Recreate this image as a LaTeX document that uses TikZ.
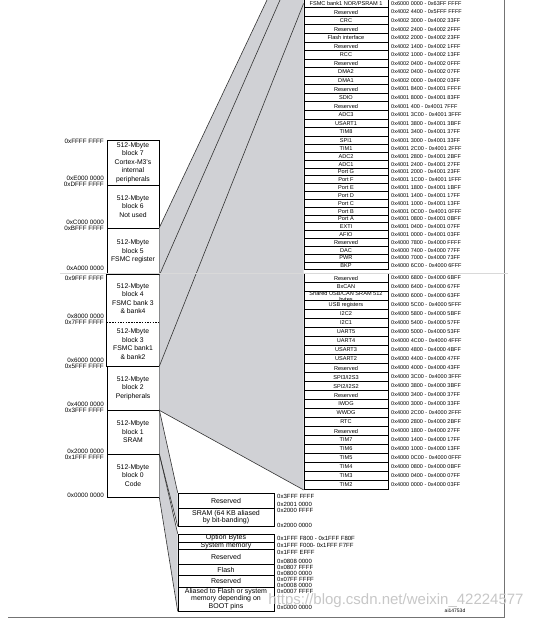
\documentclass[tikz,border=0pt]{standalone}
\usepackage{fontspec}
\setmainfont{Liberation Sans}
\definecolor{mapgray}{RGB}{208,209,213}
\tikzset{
    mblock/.style={draw, fill=white, line width=0.6pt, minimum width=52pt, inner sep=0pt, align=center, font=\fontsize{6.8}{8.5}\selectfont},
    mbaddr/.style={anchor=east, inner sep=0pt, font=\fontsize{6.3}{7}\selectfont},
    preg/.style={draw, fill=white, line width=0.8pt, minimum width=84pt, inner sep=0pt, font=\fontsize{5.6}{6}\selectfont},
    praddr/.style={anchor=west, inner sep=0pt, font=\fontsize{5.5}{6}\selectfont},
    cmem/.style={draw, fill=white, line width=0.6pt, minimum width=96pt, inner sep=0pt, align=center, font=\fontsize{7}{7.5}\selectfont},
    cmaddr/.style={anchor=west, inner sep=0pt, font=\fontsize{6}{6.5}\selectfont},
    mapshade/.style={fill=mapgray, draw=none},
    maplink/.style={line width=0.6pt, draw=black!80},
}

\begin{document}
\begin{tikzpicture}[x=1pt, y=-1pt]
    \useasboundingbox (0,0) rectangle (542,620);
    % 512-Mbyte blocks
    \node[mblock, minimum height=45pt] (b7) at (133,162.5) {512-Mbyte\\block 7\\Cortex-M3's\\internal\\peripherals};
    \node[mblock, minimum height=43pt] (b6) at (133,206.5) {512-Mbyte\\block 6\\Not used};
    \node[mblock, minimum height=47pt] (b5) at (133,251.5) {512-Mbyte\\block 5\\FSMC register};
    \node[mblock, draw=none, minimum height=47pt] (b4) at (133,298.5) {512-Mbyte\\block 4\\FSMC bank 3\\\& bank4};
    \node[mblock, draw=none, minimum height=44pt] (b3) at (133,344) {512-Mbyte\\block 3\\FSMC bank1\\\& bank2};
    \node[mblock, minimum height=44pt] (b2) at (133,388) {512-Mbyte\\block 2\\Peripherals};
    \node[mblock, minimum height=44pt] (b1) at (133,432) {512-Mbyte\\block 1\\SRAM};
    \node[mblock, minimum height=43pt] (b0) at (133,475.5) {512-Mbyte\\block 0\\Code};
    \draw[line width=0.6pt] (b4.north west) rectangle (b3.south east);
    \draw[line width=0.5pt, dash pattern=on 1.5pt off 1.2pt] (b4.south west) -- (b4.south east);
    \foreach \txt/\yy [count=\k] in {0xFFFF FFFF/141, 0xE000 0000/178, 0xDFFF FFFF/184, 0xC000 0000/222.5,
        0xBFFF FFFF/228.5, 0xA000 0000/268.5, 0x9FFF FFFF/278.5, 0x8000 0000/316.5, 0x7FFF FFFF/322.5,
        0x6000 0000/360.5, 0x5FFF FFFF/366.5, 0x4000 0000/404.5, 0x3FFF FFFF/410.5, 0x2000 0000/451.5,
        0x1FFF FFFF/457.5, 0x0000 0000/495}
        \node[mbaddr] (ba\k) at (104,\yy) {\txt};
    % peripheral registers
    \foreach \lbl/\adr [count=\i from 0] in {
        {FSMC bank1 NOR/PSRAM 1}/0x6000 0000 - 0x63FF FFFF,
        Reserved/0x4002 4400 - 0x5FFF FFFF,
        CRC/0x4002 3000 - 0x4002 33FF,
        Reserved/0x4002 2400 - 0x4002 2FFF,
        Flash interface/0x4002 2000 - 0x4002 23FF,
        Reserved/0x4002 1400 - 0x4002 1FFF,
        RCC/0x4002 1000 - 0x4002 13FF,
        Reserved/0x4002 0400 - 0x4002 0FFF,
        DMA2/0x4002 0400 - 0x4002 07FF,
        DMA1/0x4002 0000 - 0x4002 03FF,
        Reserved/0x4001 8400 - 0x4001 FFFF,
        SDIO/0x4001 8000 - 0x4001 83FF,
        Reserved/0x4001 400 - 0x4001 7FFF,
        ADC3/0x4001 3C00 - 0x4001 3FFF,
        USART1/0x4001 3800 - 0x4001 3BFF,
        TIM8/0x4001 3400 - 0x4001 37FF,
        SPI1/0x4001 3000 - 0x4001 33FF}
    {
        \node[preg, minimum height=8.553pt] (ra\i) at (346,{-0.8+8.553*(\i+0.5)}) {\lbl};
        \node[praddr] (aa\i) at (391,{-0.8+8.553*(\i+0.5)}) {\adr};
    }
    \foreach \lbl/\adr [count=\i from 0] in {
        TIM1/0x4001 2C00 - 0x4001 2FFF,
        ADC2/0x4001 2800 - 0x4001 2BFF,
        ADC1/0x4001 2400 - 0x4001 27FF,
        Port G/0x4001 2000 - 0x4001 23FF,
        Port F/0x4001 1C00 - 0x4001 1FFF,
        Port E/0x4001 1800 - 0x4001 1BFF,
        Port D/0x4001 1400 - 0x4001 17FF,
        Port C/0x4001 1000 - 0x4001 13FF,
        Port B/0x4001 0C00 - 0x4001 0FFF,
        Port A/0x4001 0800 - 0x4001 0BFF,
        EXTI/0x4001 0400 - 0x4001 07FF,
        AFIO/0x4001 0000 - 0x4001 03FF,
        Reserved/0x4000 7800 - 0x4000 FFFF,
        DAC/0x4000 7400 - 0x4000 77FF,
        PWR/0x4000 7000 - 0x4000 73FF,
        BKP/0x4000 6C00 - 0x4000 6FFF}
    {
        \node[preg, minimum height=7.825pt] (rb\i) at (346,{144.6+7.825*(\i+0.5)}) {\lbl};
        \node[praddr] (ab\i) at (391,{144.6+7.825*(\i+0.5)}) {\adr};
    }
    \foreach \lbl/\adr [count=\i from 0] in {
        Reserved/0x4000 6800 - 0x4000 6BFF,
        BxCAN/0x4000 6400 - 0x4000 67FF,
        {\smash{\raisebox{-2.8pt}{\begin{tabular}{@{}c@{}}Shared USB/CAN SRAM 512\\bytes\end{tabular}}}}/0x4000 6000 - 0x4000 63FF,
        USB registers/0x4000 5C00 - 0x4000 5FFF,
        I2C2/0x4000 5800 - 0x4000 5BFF,
        I2C1/0x4000 5400 - 0x4000 57FF,
        UART5/0x4000 5000 - 0x4000 53FF,
        UART4/0x4000 4C00 - 0x4000 4FFF,
        USART3/0x4000 4800 - 0x4000 4BFF,
        USART2/0x4000 4400 - 0x4000 47FF,
        Reserved/0x4000 4000 - 0x4000 43FF,
        {SPI3/I2S3}/0x4000 3C00 - 0x4000 3FFF,
        {SPI2/I2S2}/0x4000 3800 - 0x4000 3BFF,
        Reserved/0x4000 3400 - 0x4000 37FF,
        IWDG/0x4000 3000 - 0x4000 33FF,
        WWDG/0x4000 2C00 - 0x4000 2FFF,
        RTC/0x4000 2800 - 0x4000 2BFF,
        Reserved/0x4000 1800 - 0x4000 27FF,
        TIM7/0x4000 1400 - 0x4000 17FF,
        TIM6/0x4000 1000 - 0x4000 13FF,
        TIM5/0x4000 0C00 - 0x4000 0FFF,
        TIM4/0x4000 0800 - 0x4000 0BFF,
        TIM3/0x4000 0400 - 0x4000 07FF,
        TIM2/0x4000 0000 - 0x4000 03FF}
    {
        \node[preg, minimum height=9pt] (rc\i) at (346,{273.5+9*(\i+0.5)}) {\lbl};
        \node[praddr] (ac\i) at (391,{273.5+9*(\i+0.5)}) {\adr};
    }
    % code and SRAM detail
    \node[cmem, minimum height=15pt] (m0) at (226,500.5) {Reserved};
    \node[cmem, minimum height=18pt] (m1) at (226,517) {SRAM (64 KB aliased\\by bit-banding)};
    \node[cmem, minimum height=8pt] (m2) at (226,538) {Option Bytes};
    \node[cmem, minimum height=7.5pt] (m3) at (226,545.75) {System memory};
    \node[cmem, minimum height=14.5pt] (m4) at (226,556.75) {Reserved};
    \node[cmem, minimum height=11pt] (m5) at (226,569.5) {Flash};
    \node[cmem, minimum height=12pt] (m6) at (226,581) {Reserved};
    \node[cmem, minimum height=24pt] (m7) at (226,599) {Aliased to Flash or system\\memory depending on\\BOOT pins};
    \foreach \txt/\yy [count=\k] in {0x3FFF FFFF/496, 0x2001 0000/504.5, 0x2000 FFFF/510.5, 0x2000 0000/525,
        0x1FFF F800 - 0x1FFF F80F/538, 0x1FFF F000- 0x1FFF F7FF/545.5, 0x1FFF EFFF/552.5,
        0x0808 0000/561, 0x0807 FFFF/567, 0x0800 0000/573, 0x07FF FFFF/579, 0x0008 0000/585,
        0x0007 FFFF/591, 0x0000 0000/607}
        \node[cmaddr] (ca\k) at (277,\yy) {\txt};
    \node[inner sep=0pt, font=\fontsize{5}{5}\selectfont] (fig) at (455,611) {ai14753d};
    \draw[line width=0.8pt, black!55] (504,0) -- (504,617) -- (8,617);
    \coordinate (top1) at (267,0);
    \coordinate (top2) at (280,0);
    \coordinate (coltop) at (303.6,0);
    \path[mapshade] (b5.north east) -- (top1) -- (coltop) -- (rc23.south west) -- (b2.south east) -- cycle;
    \path[mapshade] (b1.north east) -- (m0.north west) -- (m1.south west) -- (b1.south east) -- cycle;
    \path[mapshade] (b0.north east) -- (m2.north west) -- (m7.south west) -- (b0.south east) -- cycle;
    \draw[maplink] (b5.north east) -- (top1);
    \draw[maplink] (b5.south east) -- (top2);
    \draw[maplink] (b3.south east) -- (ra0.west);
    \draw[maplink] (b2.south east) -- (rc23.south west);
    \draw[maplink] (b1.north east) -- (m0.north west);
    \draw[maplink] (b1.south east) -- (m1.south west);
    \draw[maplink] (b0.north east) -- (m2.north west);
    \draw[maplink] (b0.south east) -- (m7.south west);
    \draw[black!15, line width=0.5pt] (60,273.2) -- (508,273.2);
    \node[inner sep=0pt, text=black!22, font=\fontsize{15}{15}\selectfont] (wmark) at (396,601) {https://blog.csdn.net/weixin\_42224577};
\end{tikzpicture}
\end{document}
